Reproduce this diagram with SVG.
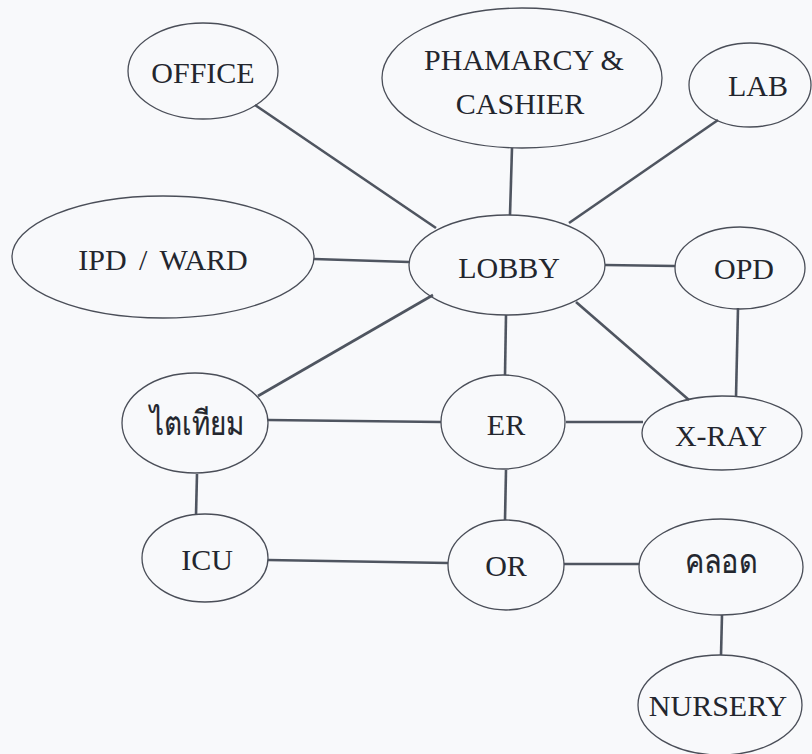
<svg xmlns="http://www.w3.org/2000/svg" width="812" height="754" viewBox="0 0 812 754">
<style>
.n ellipse{fill:none;stroke:#4a4e58;stroke-width:1.3}
.n text{font-family:"Liberation Serif","Noto Sans",serif;font-size:30px;fill:#23262e;text-anchor:middle;dominant-baseline:central}
.n text.th{font-size:34px;stroke:#23262e;stroke-width:0.2}
#edges line{stroke:#4f5560;stroke-width:2.6}
</style>
<rect width="812" height="754" fill="#f8f9fb"/>
<g id="edges">
<line x1="255" y1="105" x2="436" y2="228"/>
<line x1="512" y1="148" x2="510" y2="215"/>
<line x1="718" y1="120" x2="569" y2="223"/>
<line x1="314" y1="259" x2="409" y2="262"/>
<line x1="605" y1="265" x2="675" y2="266"/>
<line x1="433" y1="295" x2="258" y2="396"/>
<line x1="506" y1="315" x2="505" y2="375"/>
<line x1="576" y1="302" x2="689" y2="400"/>
<line x1="738" y1="308" x2="736" y2="397"/>
<line x1="268" y1="420" x2="441" y2="422"/>
<line x1="566" y1="422" x2="643" y2="422"/>
<line x1="197" y1="474" x2="196" y2="515"/>
<line x1="506" y1="470" x2="505" y2="520"/>
<line x1="268" y1="560" x2="448" y2="563"/>
<line x1="564" y1="564" x2="639" y2="564"/>
<line x1="722" y1="615" x2="721" y2="655"/>
</g>
<g id="office" class="n"><ellipse cx="203" cy="71" rx="75" ry="48"/><text x="203" y="72">OFFICE</text></g>
<g id="pharmacy" class="n"><ellipse cx="522" cy="78" rx="140" ry="70"/><text x="524" y="59">PHAMARCY &amp;</text><text x="520" y="103">CASHIER</text></g>
<g id="lab" class="n"><ellipse cx="750" cy="85" rx="61" ry="42"/><text x="758" y="85">LAB</text></g>
<g id="ipd" class="n"><ellipse cx="163" cy="257" rx="151" ry="61"/><text x="163" y="259" style="word-spacing:5px">IPD / WARD</text></g>
<g id="lobby" class="n"><ellipse cx="507" cy="265" rx="98" ry="50"/><text x="509" y="267">LOBBY</text></g>
<g id="opd" class="n"><ellipse cx="740" cy="268" rx="65" ry="41"/><text x="744" y="268">OPD</text></g>
<g id="dialysis" class="n"><ellipse cx="195" cy="423" rx="73" ry="50"/><text class="th" transform="translate(197 424) scale(0.82 1)" x="0" y="0">ไตเทียม</text></g>
<g id="er" class="n"><ellipse cx="503" cy="422" rx="62" ry="47"/><text x="506" y="424">ER</text></g>
<g id="xray" class="n"><ellipse cx="722" cy="433" rx="80" ry="37"/><text x="721" y="435">X-RAY</text></g>
<g id="icu" class="n"><ellipse cx="205" cy="558" rx="63" ry="44"/><text x="207" y="559">ICU</text></g>
<g id="or" class="n"><ellipse cx="506" cy="565" rx="58" ry="45"/><text x="506" y="565">OR</text></g>
<g id="delivery" class="n"><ellipse cx="721" cy="567" rx="82" ry="48"/><text class="th" transform="translate(721 562) scale(0.85 1)" x="0" y="0">คลอด</text></g>
<g id="nursery" class="n"><ellipse cx="720" cy="705" rx="82" ry="50"/><text x="718" y="705">NURSERY</text></g>
</svg>
